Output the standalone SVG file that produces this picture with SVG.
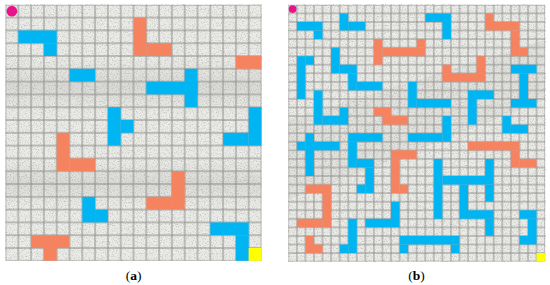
<svg xmlns="http://www.w3.org/2000/svg" width="550" height="285" viewBox="0 0 550 285">
<style>
.b{fill:#00b5f1}
.o{fill:#f5835f}
.y{fill:#ffff00}
.p{fill:#e8128a}
.base{fill:#ebebe8}
.lbl{font-family:"Liberation Serif","DejaVu Serif",serif;font-size:13.5px;fill:#000;text-anchor:middle}
</style>
<defs>
<filter id="tex" x="0" y="0" width="1" height="1">
<feTurbulence type="fractalNoise" baseFrequency="0.75" numOctaves="3" seed="7" result="n"/>
<feColorMatrix in="n" type="matrix" values="0 0 0 0 0.45  0 0 0 0 0.45  0 0 0 0 0.43  -2.0 0 0 0 1.06"/>
</filter>
<pattern id="gA" patternUnits="userSpaceOnUse" x="5.5" y="4.8" width="12.8" height="12.8">
<path d="M0 0H12.8M0 0V12.8M0 12.8H12.8M12.8 0V12.8" stroke="#8e8e8c" stroke-width="1" fill="none"/>
</pattern>
<pattern id="gB" patternUnits="userSpaceOnUse" x="288.3" y="4.8" width="8.56" height="8.56">
<path d="M0 0H8.56M0 0V8.56M0 8.56H8.56M8.56 0V8.56" stroke="#8e8e8c" stroke-width="0.9" fill="none"/>
</pattern>
<linearGradient id="bandG" x1="0" y1="0" x2="0" y2="1">
<stop offset="0" stop-color="#7a7a76" stop-opacity="0"/>
<stop offset="0.5" stop-color="#7a7a76" stop-opacity="0.15"/>
<stop offset="1" stop-color="#7a7a76" stop-opacity="0"/>
</linearGradient>
</defs>
<rect width="550" height="285" fill="#ffffff"/>

<!-- Grid (a) -->
<g id="gridA">
<rect class="base" x="5.5" y="4.8" width="256" height="256"/>
<rect x="5.5" y="4.8" width="256" height="256" filter="url(#tex)" fill="#000"/>
<rect x="5.5" y="58" width="256" height="56" fill="url(#bandG)"/>
<rect x="5.5" y="160" width="256" height="46" fill="url(#bandG)"/>
<rect x="5.5" y="4.8" width="256" height="256" fill="url(#gA)"/>
<g transform="translate(5.5,4.8) scale(12.8)">
<g class="b">
<rect x="1" y="2" width="3" height="1"/><rect x="3" y="3" width="1" height="1"/>
<rect x="5" y="5" width="2" height="1"/>
<rect x="8" y="8" width="1" height="3"/><rect x="9" y="9" width="1" height="1"/>
<rect x="11" y="6" width="4" height="1"/><rect x="14" y="5" width="1" height="3"/>
<rect x="19" y="8" width="1" height="3"/><rect x="17" y="10" width="2" height="1"/>
<rect x="6" y="15" width="1" height="2"/><rect x="7" y="16" width="1" height="1"/>
<rect x="16" y="17" width="3" height="1"/><rect x="18" y="18" width="1" height="2"/>
</g>
<g class="o">
<rect x="10" y="1" width="1" height="3"/><rect x="11" y="3" width="2" height="1"/>
<rect x="18" y="4" width="2" height="1"/>
<rect x="4" y="10" width="1" height="3"/><rect x="5" y="12" width="2" height="1"/>
<rect x="13" y="13" width="1" height="3"/><rect x="11" y="15" width="2" height="1"/>
<rect x="2" y="18" width="3" height="1"/><rect x="3" y="19" width="1" height="1"/>
</g>
<rect class="y" x="19" y="19" width="1" height="1"/>
<circle class="p" cx="0.5" cy="0.5" r="0.42"/>
</g>
</g>

<!-- Grid (b) -->
<g id="gridB">
<rect class="base" x="288.3" y="4.8" width="256.8" height="256.8"/>
<rect x="288.3" y="4.8" width="256.8" height="256.8" filter="url(#tex)" fill="#000"/>
<path d="M288.3 120 L545.1 40 L545.1 100 L288.3 200 Z" fill="#7a7a76" fill-opacity="0.08"/>
<rect x="288.3" y="4.8" width="256.8" height="256.8" fill="url(#gB)"/>
<g transform="translate(288.3,4.8) scale(8.56)">
<g class="b">
<rect x="1" y="2" width="3" height="1"/><rect x="3" y="3" width="1" height="1"/>
<rect x="6" y="1" width="1" height="2"/><rect x="7" y="2" width="2" height="1"/>
<rect x="16" y="1" width="3" height="1"/><rect x="18" y="2" width="1" height="2"/>
<rect x="5" y="5" width="1" height="3"/><rect x="6" y="7" width="2" height="1"/><rect x="7" y="8" width="1" height="2"/><rect x="8" y="9" width="3" height="1"/>
<rect x="1" y="6" width="1" height="5"/><rect x="2" y="6" width="1" height="1"/>
<rect x="3" y="10" width="1" height="4"/><rect x="4" y="13" width="3" height="1"/><rect x="6" y="12" width="1" height="1"/>
<rect x="14" y="9" width="1" height="3"/><rect x="15" y="11" width="4" height="1"/>
<rect x="26" y="7" width="3" height="1"/><rect x="27" y="8" width="1" height="3"/><rect x="26" y="11" width="3" height="1"/>
<rect x="21" y="10" width="3" height="1"/><rect x="21" y="11" width="1" height="3"/>
<rect x="25" y="13" width="1" height="2"/><rect x="26" y="14" width="2" height="1"/>
<rect x="18" y="13" width="1" height="3"/><rect x="14" y="15" width="4" height="1"/>
<rect x="2" y="15" width="1" height="5"/><rect x="1" y="16" width="1" height="1"/><rect x="3" y="16" width="3" height="1"/>
<rect x="7" y="15" width="4" height="1"/><rect x="7" y="16" width="1" height="3"/><rect x="8" y="18" width="2" height="1"/><rect x="9" y="19" width="1" height="3"/><rect x="8" y="21" width="1" height="1"/>
<rect x="12" y="23" width="1" height="3"/><rect x="9" y="25" width="3" height="1"/>
<rect x="7" y="25" width="1" height="4"/><rect x="6" y="28" width="1" height="1"/>
<rect x="13" y="27" width="7" height="1"/><rect x="13" y="28" width="1" height="1"/><rect x="19" y="28" width="1" height="1"/>
<rect x="17" y="18" width="1" height="7"/><rect x="18" y="20" width="6" height="1"/><rect x="23" y="18" width="1" height="2"/><rect x="23" y="21" width="1" height="2"/><rect x="20" y="21" width="1" height="4"/><rect x="21" y="24" width="3" height="1"/><rect x="23" y="25" width="1" height="2"/>
<rect x="27" y="24" width="2" height="1"/><rect x="28" y="25" width="1" height="3"/><rect x="27" y="27" width="1" height="1"/>
</g>
<g class="o">
<rect x="10" y="4" width="1" height="3"/><rect x="11" y="5" width="5" height="1"/><rect x="15" y="4" width="1" height="1"/>
<rect x="23" y="1" width="1" height="1"/><rect x="23" y="2" width="4" height="1"/><rect x="26" y="3" width="1" height="3"/><rect x="27" y="5" width="1" height="1"/>
<rect x="18" y="7" width="1" height="1"/><rect x="18" y="8" width="5" height="1"/><rect x="22" y="6" width="1" height="2"/>
<rect x="10" y="12" width="2" height="1"/><rect x="11" y="13" width="3" height="1"/>
<rect x="12" y="17" width="3" height="1"/><rect x="12" y="18" width="1" height="4"/><rect x="13" y="21" width="1" height="1"/>
<rect x="2" y="21" width="3" height="1"/><rect x="4" y="22" width="1" height="4"/><rect x="1" y="25" width="3" height="1"/>
<rect x="2" y="27" width="1" height="2"/><rect x="3" y="28" width="1" height="1"/>
<rect x="21" y="16" width="6" height="1"/><rect x="26" y="17" width="1" height="2"/><rect x="27" y="18" width="2" height="1"/>
</g>
<rect class="y" x="29" y="29" width="1" height="1"/>
<circle class="p" cx="0.5" cy="0.5" r="0.45"/>
</g>
</g>

<text class="lbl" x="133.5" y="280">(<tspan font-weight="bold">a</tspan>)</text>
<text class="lbl" x="416.5" y="280">(<tspan font-weight="bold">b</tspan>)</text>
</svg>
